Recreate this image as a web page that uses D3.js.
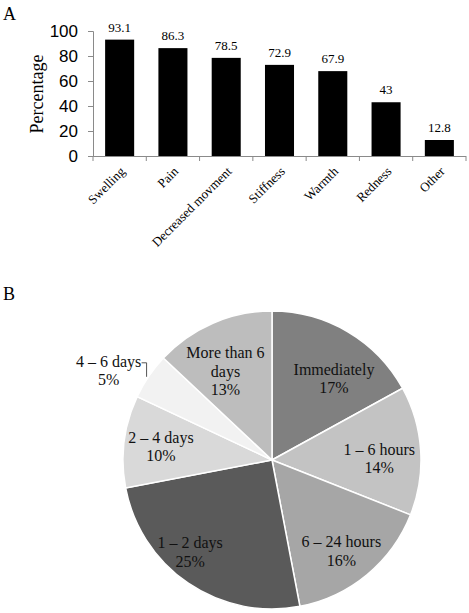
<!DOCTYPE html>
<html>
<head>
<meta charset="utf-8">
<script src="https://cdn.jsdelivr.net/npm/d3@7/dist/d3.min.js"></script>
<style>
  html, body { margin: 0; padding: 0; background: #fff; }
  svg { display: block; }
</style>
</head>
<body>
<svg id="chart" width="469" height="613"></svg>
<script>
// ---- Data: panel A (bar chart) ----
const symptoms = ["Swelling", "Pain", "Decreased movment", "Stiffness", "Warmth", "Redness", "Other"];
const symptomPct = [93.1, 86.3, 78.5, 72.9, 67.9, 43, 12.8];
const yTicks = [0, 20, 40, 60, 80, 100];

// ---- Data: panel B (pie chart) ----
const onsetLabels = ["Immediately", "1 \u2013 6 hours", "6 \u2013 24 hours", "1 \u2013 2 days", "2 \u2013 4 days", "4 \u2013 6 days", "More than 6 days"];
const onsetPct = [17, 14, 16, 25, 10, 5, 13];
const onsetColors = ["#808080", "#c3c3c3", "#a6a6a6", "#5a5a5a", "#d9d9d9", "#f2f2f2", "#bdbdbd"];

const svg = d3.select("#chart");
const serif = "'Liberation Serif', 'Times New Roman', serif";
const sans = "'Liberation Sans', Arial, sans-serif";

// ================= Panel A =================
svg.append("text").attr("x", 3).attr("y", 20)
  .style("font-family", serif).style("font-size", "18px").text("A");

const x = d3.scaleBand().domain(symptoms).range([93, 466])
  .paddingInner(0.455).paddingOuter(0.2275);
const y = d3.scaleLinear().domain([0, 100]).range([156, 31]);
const axisColor = "#8a8a8a";

// y axis
const yAxis = svg.append("g").attr("transform", "translate(93,0)")
  .call(d3.axisLeft(y).tickValues(yTicks).tickSize(5).tickPadding(10));
yAxis.select(".domain").attr("stroke", axisColor);
yAxis.selectAll(".tick line").attr("stroke", axisColor);
yAxis.selectAll(".tick text").style("font-family", sans).style("font-size", "17px").attr("fill", "#000");

// x axis baseline + boundary ticks
const step = x.step();
svg.append("line").attr("x1", x.range()[0]).attr("x2", x.range()[1])
  .attr("y1", y(0) + 0.5).attr("y2", y(0) + 0.5).attr("stroke", axisColor);
svg.selectAll(".xtick").data(d3.range(symptoms.length + 1)).enter().append("line")
  .attr("x1", i => x.range()[0] + i * step).attr("x2", i => x.range()[0] + i * step)
  .attr("y1", y(0)).attr("y2", y(0) + 5).attr("stroke", axisColor);

// bars
svg.selectAll(".bar").data(symptoms).enter().append("rect")
  .attr("x", d => x(d)).attr("width", x.bandwidth())
  .attr("y", (d, i) => y(symptomPct[i])).attr("height", (d, i) => y(0) - y(symptomPct[i]))
  .attr("fill", "#000");

// value labels
svg.selectAll(".val").data(symptoms).enter().append("text")
  .attr("x", d => x(d) + x.bandwidth() / 2)
  .attr("y", (d, i) => y(symptomPct[i]) - 8)
  .attr("text-anchor", "middle")
  .style("font-family", serif).style("font-size", "13px")
  .text((d, i) => symptomPct[i]);

// category labels (rotated)
svg.selectAll(".cat").data(symptoms).enter().append("text")
  .attr("transform", d => `translate(${x(d) + x.bandwidth() / 2 + 3},${y(0) + 13}) rotate(-45)`)
  .attr("text-anchor", "end").attr("dy", "0.35em")
  .style("font-family", serif).style("font-size", "13px")
  .text(d => d);

// y axis title
svg.append("text").attr("transform", "translate(37,94) rotate(-90)")
  .attr("text-anchor", "middle").attr("dy", "0.35em")
  .style("font-family", serif).style("font-size", "18px").text("Percentage");

// ================= Panel B =================
svg.append("text").attr("x", 3).attr("y", 300)
  .style("font-family", serif).style("font-size", "18px").text("B");

const cx = 272, cy = 460, R = 149;
const g = svg.append("g").attr("transform", `translate(${cx},${cy})`);
const pie = d3.pie().sort(null).value(d => d.v);
const slices = pie(onsetLabels.map((l, i) => ({ l, v: onsetPct[i], c: onsetColors[i] })));
const arc = d3.arc().innerRadius(0).outerRadius(R);

g.selectAll("path").data(slices).enter().append("path")
  .attr("d", arc).attr("fill", d => d.data.c)
  .attr("stroke", "#fff").attr("stroke-width", 1.5);

// label layout: radius fraction and angular shift (deg) for each slice label
const labelLayout = {
  "Immediately": [0.685, 6.8],
  "1 \u2013 6 hours": [0.72, 3],
  "6 \u2013 24 hours": [0.77, 2.4],
  "1 \u2013 2 days": [0.83, 7.3],
  "2 \u2013 4 days": [0.75, -0.6],
  "More than 6 days": [0.67, -4.4]
};
const wrapLines = {
  "More than 6 days": ["More than 6", "days"]
};
const lh = 18.5;

slices.forEach(s => {
  const name = s.data.l;
  const mid = (s.startAngle + s.endAngle) / 2;
  const lines = (wrapLines[name] || [name]).concat([s.data.v + "%"]);
  let px, py, anchor = "middle";
  if (labelLayout[name]) {
    const [f, shift] = labelLayout[name];
    const a = mid + shift * Math.PI / 180;
    px = Math.sin(a) * R * f;
    py = -Math.cos(a) * R * f;
  } else {
    // outside label with leader line
    const ex = Math.sin(mid) * (R - 1), ey = -Math.cos(mid) * (R - 1);
    px = ex - 41; py = ey - 6;
    g.append("path")
      .attr("d", `M${ex - 8},${ey - 14}H${ex - 3}V${ey}`)
      .attr("fill", "none").attr("stroke", "#555").attr("stroke-width", 1);
  }
  const t = g.append("text").attr("text-anchor", anchor)
    .style("font-family", serif).style("font-size", "16px").attr("fill", "#111");
  const y0 = py - (lines.length - 1) * lh / 2 + 5;
  lines.forEach((ln, i) => {
    t.append("tspan").attr("x", px).attr("y", y0 + i * lh).text(ln);
  });
});
</script>
</body>
</html>
